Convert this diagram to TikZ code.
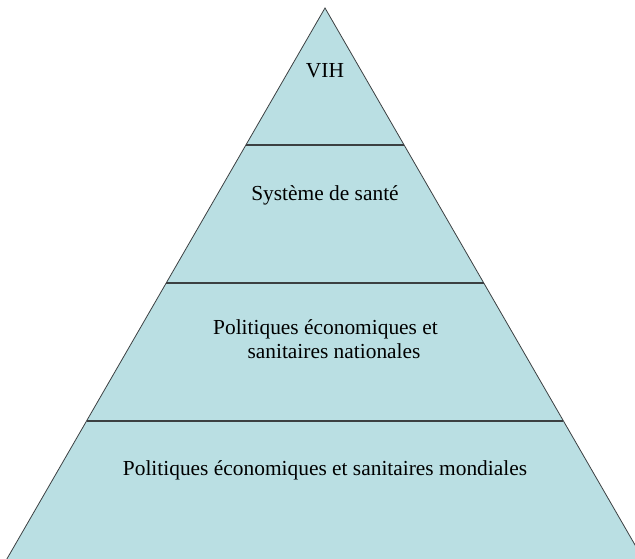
\documentclass[tikz,border=0pt]{standalone}
\usepackage{fontspec}
\setmainfont{Liberation Serif}
\definecolor{pyrfill}{RGB}{186,223,227}
\definecolor{pyrline}{RGB}{60,64,66}
\begin{document}
\begin{tikzpicture}[x=1pt,y=1pt,
  lbl/.style={font=\fontsize{21.4}{24}\selectfont, anchor=base, align=center, inner sep=0pt},
  sep/.style={draw=pyrline, line width=1.1pt},
  side/.style={draw=pyrline, line width=0.8pt}]
\useasboundingbox (0,0) rectangle (635,-558);
\clip (0,0) rectangle (635,-558);
\def\sl{0.5774}
\coordinate (apex) at (325,-8);
\coordinate (bl) at ({325-\sl*560},-568);
\coordinate (br) at ({325+\sl*560},-568);
\fill[pyrfill] (apex) -- (bl) -- (br) -- cycle;
\foreach \py/\nm in {145/a,283/b,421/c}{
  \coordinate (\nm L) at ({325-\sl*(\py-8)},-\py);
  \coordinate (\nm R) at ({325+\sl*(\py-8)},-\py);
  \draw[sep] (\nm L) -- (\nm R);
}
\draw[side] (bl) -- (apex) -- (br);
\node[lbl] (vih) at (325,-77) {VIH};
\node[lbl] (sante) at (325,-200) {Système de santé};
\node[lbl] (nat1) at (325.5,-334) {Politiques économiques et};
\node[lbl] (nat2) at (334,-358) {sanitaires nationales};
\node[lbl] (mond) at (325,-475) {Politiques économiques et sanitaires mondiales};
\end{tikzpicture}
\end{document}
